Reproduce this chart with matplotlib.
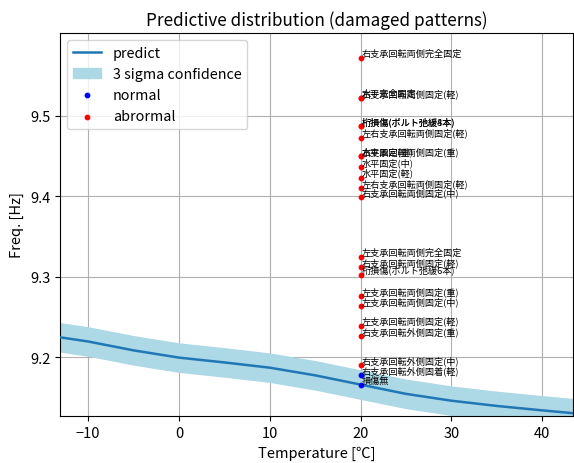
import matplotlib
matplotlib.use("Agg")
import matplotlib.pyplot as plt
import numpy as np

plt.rcParams["font.family"] = ["Noto Sans CJK JP", "DejaVu Sans"]

# predicted frequency vs temperature
temps = [-13.1, -10, -5, 0, 5, 10, 15, 20, 25, 30, 35, 40, 43.4]
pred = [9.2247, 9.2195, 9.2085, 9.1995, 9.1935, 9.1870, 9.1775,
        9.1660, 9.1545, 9.1460, 9.1395, 9.1340, 9.1305]
sigma3 = 0.0175

# measurements at 20 deg C
normal_labels = ["右支承回転外側固着(軽)", "損傷無"]
normal_freq = [9.1775, 9.1651]

abnormal_labels = [
    "右支承回転両側完全固定",
    "水平完全固定",
    "右支承回転両側固定(軽)",
    "桁損傷(ボルト弛緩4本)",
    "桁損傷(ボルト弛緩8本)",
    "左右支承回転両側固定(軽)",
    "水平固定(重)",
    "右支承回転両側固定(重)",
    "水平固定(中)",
    "水平固定(軽)",
    "左右支承回転両側固定(軽)",
    "右支承回転両側固定(中)",
    "左支承回転両側完全固定",
    "右支承回転両側固定(軽)",
    "桁損傷(ボルト弛緩6本)",
    "左支承回転両側固定(重)",
    "左支承回転両側固定(中)",
    "左支承回転両側固定(軽)",
    "右支承回転外側固定(重)",
    "右支承回転外側固定(中)",
]
abnormal_freq = [9.5712, 9.5222, 9.5216, 9.4872, 9.4866, 9.4725, 9.4500,
                 9.4496, 9.4362, 9.4231, 9.4099, 9.3984, 9.3243, 9.3120,
                 9.3025, 9.2762, 9.2638, 9.2391, 9.2263, 9.1898]
meas_temp = 20

fig = plt.figure(figsize=(5.74, 4.64), dpi=100)
ax = fig.add_axes([0.1045, 0.1013, 0.8937, 0.8254])

t = np.array(temps)
p = np.array(pred)
ax.plot(t, p, color="#1f77b4", linewidth=1.8, label="predict", zorder=3)
ax.fill_between(t, p - sigma3, p + sigma3, color="lightblue",
                label="3 sigma confidence", zorder=2)

ax.scatter([meas_temp] * len(normal_freq), normal_freq, s=10, color="blue",
           label="normal", zorder=4)
ax.scatter([meas_temp] * len(abnormal_freq), abnormal_freq, s=10, color="red",
           label="abrormal", zorder=4)

for lab, f in zip(normal_labels + abnormal_labels, normal_freq + abnormal_freq):
    ax.text(meas_temp + 0.15, f, lab, fontsize=6.6, ha="left", va="bottom",
            zorder=5)

ax.set_xlim(-13.1, 43.4)
ax.set_ylim(9.127, 9.6025)
ax.set_yticks([9.2, 9.3, 9.4, 9.5])
ax.tick_params(labelsize=10.5)
ax.set_xlabel("Temperature [℃]", fontsize=10.5)
ax.set_ylabel("Freq. [Hz]", fontsize=10.5)
ax.set_title("Predictive distribution (damaged patterns)", fontsize=12.3)
ax.grid(True, color="#b0b0b0", linewidth=0.8)
ax.legend(loc="upper left", fontsize=10.3, markerscale=1.0)

fig.savefig("out.png", dpi=100)
